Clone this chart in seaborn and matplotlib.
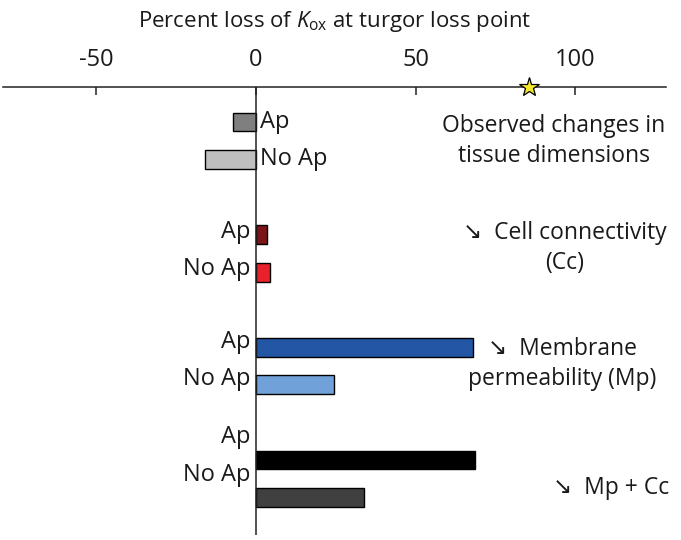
import matplotlib
matplotlib.use("Agg")
import numpy as np
import pandas as pd
import matplotlib.pyplot as plt
import seaborn as sns

# data
groups = ["Observed", "Cc", "Mp", "Mp + Cc"]
conditions = ["Ap", "No Ap"]
values = [[-7.3, -16.0], [3.6, 4.5], [68.0, 24.5], [68.5, 34.0]]
bar_colors = [["#7f7f7f", "#bfbfbf"], ["#7d1518", "#e8212b"],
              ["#2456a6", "#70a1d9"], ["#000000", "#404040"]]
star_value = 85.5
x_ticks = [-50, 0, 50, 100]
annotations = ["Observed changes in\ntissue dimensions",
               "\u2198  Cell connectivity\n(Cc)",
               "\u2198  Membrane\npermeability (Mp)",
               "\u2198  Mp + Cc"]

sns.set_theme(style="white")
plt.rcParams["font.family"] = ["Open Sans", "DejaVu Sans"]
plt.rcParams["mathtext.fontset"] = "custom"
plt.rcParams["mathtext.rm"] = "Open Sans"
plt.rcParams["mathtext.it"] = "Open Sans:italic"
TXT = "#1a1a1a"

rows = []
for g, grp in enumerate(groups):
    for c, cond in enumerate(conditions):
        rows.append({"bar": f"{grp} {cond}", "cond": cond, "group": g,
                     "ypos": g * 3 + c, "value": values[g][c],
                     "color": bar_colors[g][c]})
df = pd.DataFrame(rows)

fig = plt.figure(figsize=(6.81, 5.40), dpi=100)
ax = fig.add_axes([3 / 681, 1 - 535 / 540, 663 / 681, 448 / 540])

sns.barplot(data=df, x="value", y="ypos", hue="bar", orient="h",
            native_scale=True, palette=dict(zip(df["bar"], df["color"])),
            saturation=1, width=0.5, edgecolor="black", linewidth=1,
            legend=False, dodge=False, ax=ax)

ax.set_xlim(-79.3, 128.5)
ax.set_ylim(11.0, -0.93)

# axis on top only
for s in ["bottom", "left", "right"]:
    ax.spines[s].set_visible(False)
ax.spines["top"].set_linewidth(1.1)
ax.spines["top"].set_color("#222222")
ax.xaxis.tick_top()
ax.xaxis.set_label_position("top")
ax.set_xticks(x_ticks)
ax.set_xticklabels([str(t) for t in x_ticks], fontsize=17, color=TXT)
ax.tick_params(axis="x", direction="in", length=6, width=1.1, pad=11,
               colors="#222222", labelcolor=TXT)
ax.set_yticks([])
ax.set_ylabel("")
ax.set_xlabel(r"Percent loss of $\mathit{K}_{\mathrm{ox}}$ at turgor loss point",
              fontsize=16, color=TXT, labelpad=15)
ax.axvline(0, color="#222222", lw=1.1)

# star on the axis line
ax.plot([star_value], [1.0], marker="*", markersize=15, color="#f5e72c",
        markeredgecolor="black", markeredgewidth=0.9,
        transform=ax.get_xaxis_transform(), clip_on=False, zorder=5)

# Ap / No Ap labels
label_shift = [0.0, -0.08, -0.15, -0.6]
for _, r in df.iterrows():
    y = r["ypos"] + label_shift[r["group"]]
    if r["value"] < 0:
        ax.text(1.3, y, r["cond"], ha="left", va="center", fontsize=17, color=TXT)
    else:
        ax.text(-1.6, y, r["cond"], ha="right", va="center", fontsize=17, color=TXT)

# right hand annotations
ann_x = [93.3, 96.7, 96.0, 111.3]
ann_y = [0.5, 3.35, 6.45, 9.75]
for txt, x, y in zip(annotations, ann_x, ann_y):
    ax.text(x, y, txt, ha="center", va="center", fontsize=16.5,
            color=TXT, linespacing=1.35, multialignment="center")

fig.savefig("out.png", dpi=100)
